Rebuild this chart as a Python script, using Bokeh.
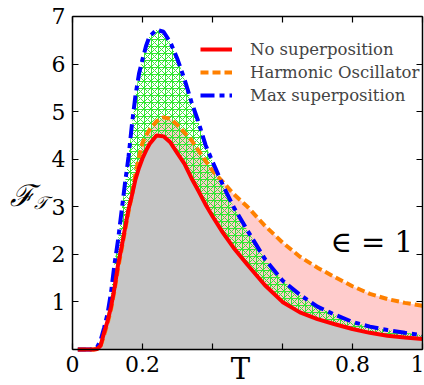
from bokeh.plotting import figure
from bokeh.models import (LinearAxis, FixedTicker, Label, Legend, LegendItem,
                          Range1d, ColumnDataSource)
from bokeh.embed import file_html
from bokeh.resources import INLINE

T = [0.015, 0.05, 0.06, 0.07, 0.08, 0.09, 0.10, 0.11, 0.12, 0.13, 0.14, 0.15, 0.16,
     0.17, 0.18, 0.19, 0.20, 0.21, 0.22, 0.24, 0.26, 0.28, 0.30, 0.32, 0.34, 0.36,
     0.38, 0.40, 0.43, 0.46, 0.50, 0.55, 0.60, 0.65, 0.70, 0.75, 0.80, 0.85, 0.90,
     0.95, 1.00]
no_sup = [0, 0, 0, 0.01, 0.08, 0.35, 0.6, 0.9, 1.3, 1.78, 2.15, 2.55, 2.95,
          3.25, 3.58, 3.82, 4.02, 4.18, 4.32, 4.5, 4.48, 4.35, 4.12, 3.9, 3.6, 3.33,
          3.05, 2.8, 2.45, 2.14, 1.78, 1.35, 1.0, 0.78, 0.64, 0.53, 0.43, 0.35, 0.29,
          0.25, 0.22]
harmonic = [0, 0, 0, 0.01, 0.07, 0.3, 0.55, 0.85, 1.25, 1.7, 2.1, 2.5, 2.9,
            3.25, 3.7, 4.05, 4.35, 4.5, 4.62, 4.8, 4.88, 4.85, 4.72, 4.56, 4.4, 4.18,
            3.97, 3.76, 3.52, 3.27, 3.0, 2.6, 2.25, 1.95, 1.72, 1.52, 1.33, 1.17, 1.06,
            0.98, 0.92]
max_sup = [0, 0, 0.01, 0.05, 0.19, 0.45, 0.75, 1.2, 1.8, 2.3, 2.9, 3.5, 4.05,
           4.75, 5.35, 5.8, 6.1, 6.38, 6.58, 6.72, 6.68, 6.45, 6.1, 5.68, 5.2, 4.78,
           4.3, 3.95, 3.45, 3.0, 2.5, 1.9, 1.45, 1.15, 0.9, 0.73, 0.58, 0.48, 0.41,
           0.35, 0.3]

x_ticks = [0, 0.2, 0.4, 0.6, 0.8, 1]
x_labels = {0: "0", 0.2: "0.2", 0.4: "", 0.6: "", 0.8: "0.8", 1: "1"}
y_ticks = [0, 1, 2, 3, 4, 5, 6, 7]
y_labels = {0: "", 1: "1", 2: "2", 3: "3", 4: "4", 5: "5", 6: "6", 7: "7"}

src = ColumnDataSource(dict(T=T, red=no_sup, orange=harmonic, blue=max_sup,
                            zero=[0] * len(T)))

SERIF = "DejaVu Serif"
W, H = 424, 385

# the frame covers the whole canvas; axes sit at fixed data locations
p = figure(width=W, height=H, output_backend="svg", toolbar_location=None,
           x_range=Range1d(-0.206, 1.006), y_range=Range1d(-0.757, 7.336),
           x_axis_location=None, y_axis_location=None,
           min_border=0, background_fill_color="white",
           border_fill_color="white")
p.xgrid.visible = False
p.ygrid.visible = False
p.outline_line_color = None


def make_axis(ticks, overrides, minor, loc, bounds):
    ax = LinearAxis(ticker=FixedTicker(ticks=ticks, num_minor_ticks=minor),
                    fixed_location=loc, bounds=bounds)
    ax.major_label_overrides = overrides
    ax.major_tick_in = 6
    ax.major_tick_out = 0
    ax.minor_tick_in = 3
    ax.minor_tick_out = 0
    ax.axis_line_width = 1.5
    ax.major_tick_line_width = 1.2
    ax.minor_tick_line_width = 1
    ax.major_label_text_font = SERIF
    ax.major_label_text_font_size = "22px"
    ax.major_label_text_color = "black"
    return ax


xb = make_axis(x_ticks, x_labels, 4, 0, (0, 1))
xb.major_label_standoff = 7
yl = make_axis(y_ticks, y_labels, 2, 0, (0, 7))
yl.major_label_standoff = 7
xt = make_axis(x_ticks, {t: "" for t in x_ticks}, 4, 7, (0, 1))
yr = make_axis(y_ticks, {t: "" for t in y_ticks}, 2, 1, (0, 7))
p.add_layout(xb, "below")
p.add_layout(yl, "left")
p.add_layout(xt, "above")
p.add_layout(yr, "right")

# fills
p.varea(x="T", y1="zero", y2="red", source=src, fill_color="#c6c6c6")
p.varea(x="T", y1="red", y2="orange", source=src, fill_color="#ffcccc")
p.varea(x="T", y1="red", y2="blue", source=src, fill_alpha=0,
        hatch_pattern="cross", hatch_color="#33e633", hatch_scale=7, hatch_weight=1)
p.varea(x="T", y1="red", y2="blue", source=src, fill_alpha=0,
        hatch_pattern="diagonal_cross", hatch_color="#33e633", hatch_scale=7,
        hatch_weight=1)

# lines
r_or = p.line(x="T", y="orange", source=src, line_color="#ff8000", line_width=4,
              line_dash="8 4")
r_bl = p.line(x="T", y="blue", source=src, line_color="#0000ff", line_width=4,
              line_dash="14 5 5 5")
r_rd = p.line(x="T", y="red", source=src, line_color="#ff0000", line_width=4)

legend = Legend(items=[LegendItem(label="No superposition", renderers=[r_rd]),
                       LegendItem(label="Harmonic Oscillator", renderers=[r_or]),
                       LegendItem(label="Max superposition", renderers=[r_bl])],
                location=(200, 280), border_line_color=None,
                background_fill_alpha=0, label_text_font=SERIF,
                label_text_font_size="16.5px", glyph_width=32, glyph_height=20,
                label_height=20, label_standoff=18, spacing=3, padding=0,
                margin=0)
p.add_layout(legend, "center")

p.add_layout(Label(x=0.737, y=2.25, text="∈ = 1", text_font=SERIF,
                   text_font_size="29px", text_baseline="middle", text_color="black"))
p.add_layout(Label(x=0.48, y=-0.41, text="T", text_font=SERIF,
                   text_font_size="29px", text_baseline="middle", text_align="center",
                   text_color="black"))
p.add_layout(Label(x=-0.143, y=3.235, text="ℱ", text_font=SERIF,
                   text_font_size="30px", text_baseline="middle", text_align="center",
                   text_font_style="italic", text_color="black"))
p.add_layout(Label(x=-0.089, y=3.09, text="𝒯", text_font=SERIF,
                   text_font_size="18px", text_baseline="middle", text_align="center",
                   text_font_style="italic", text_color="black"))

open("out.html", "w").write(file_html(p, INLINE))
